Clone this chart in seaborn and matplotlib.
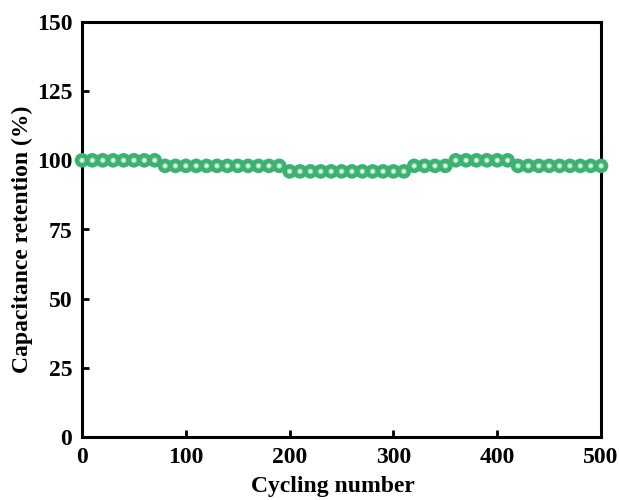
import numpy as np
import pandas as pd
import matplotlib
matplotlib.use("Agg")
import matplotlib.pyplot as plt
import seaborn as sns

cycles = [0, 10, 20, 30, 40, 50, 60, 70,
          80, 90, 100, 110, 120, 130, 140, 150, 160, 170, 180, 190,
          200, 210, 220, 230, 240, 250, 260, 270, 280, 290, 300, 310,
          320, 330, 340, 350,
          360, 370, 380, 390, 400, 410,
          420, 430, 440, 450, 460, 470, 480, 490, 500]
retention = [100, 100, 100, 100, 100, 100, 100, 100,
             98, 98, 98, 98, 98, 98, 98, 98, 98, 98, 98, 98,
             96, 96, 96, 96, 96, 96, 96, 96, 96, 96, 96, 96,
             98, 98, 98, 98,
             100, 100, 100, 100, 100, 100,
             98, 98, 98, 98, 98, 98, 98, 98, 98]
x_ticks = [0, 100, 200, 300, 400, 500]
y_ticks = [0, 25, 50, 75, 100, 125, 150]

df = pd.DataFrame({"cycle": cycles, "retention": retention})

sns.set_style("ticks")
plt.rcParams["font.family"] = ["Liberation Serif", "DejaVu Serif"]
plt.rcParams["font.weight"] = "bold"
plt.rcParams["text.color"] = "black"
plt.rcParams["axes.labelcolor"] = "black"
plt.rcParams["xtick.color"] = "black"
plt.rcParams["ytick.color"] = "black"

fig = plt.figure(figsize=(6.19, 5.0), dpi=100)
ax = fig.add_axes([0.1325, 0.126, 0.8385, 0.830])

layers = [(110, "#3bb270"), (16, "#9ddcb8"), (5, "#f4fff8")]
for s, c in layers:
    sns.scatterplot(data=df, x="cycle", y="retention", s=s, color=c,
                    edgecolor="none", linewidth=0, ax=ax, zorder=3, clip_on=False)

ax.set_xlim(0, 500)
ax.set_ylim(0, 150)
ax.set_xticks(x_ticks)
ax.set_yticks(y_ticks)
ax.set_xlabel("Cycling number", fontsize=17, fontweight="bold")
ax.set_ylabel("Capacitance retention (%)", fontsize=17, fontweight="bold")
ax.xaxis.set_label_coords(0.4836, -0.094)
ax.yaxis.set_label_coords(-0.094, 0.477)
ax.tick_params(axis="both", direction="in", length=5, width=2, labelsize=17,
               top=False, right=False, pad=7)
for lab in ax.get_xticklabels() + ax.get_yticklabels():
    lab.set_fontweight("bold")
for sp in ax.spines.values():
    sp.set_visible(True)
    sp.set_linewidth(2.2)
    sp.set_color("black")

fig.savefig("out.png", dpi=100)
